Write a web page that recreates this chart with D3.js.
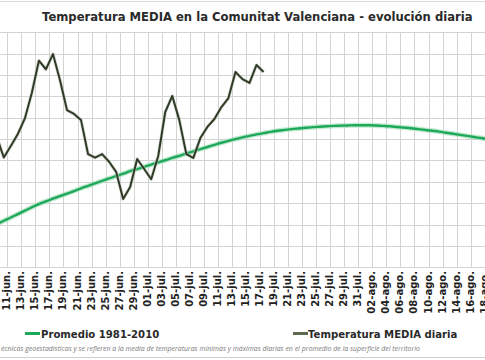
<!DOCTYPE html>
<html><head><meta charset="utf-8">
<script src="https://cdn.jsdelivr.net/npm/d3@7"></script>
<style>
html,body{margin:0;padding:0;background:#fff;overflow:hidden}
svg{display:block}
</style></head>
<body>
<svg id="c" width="485" height="360"></svg>
<script>
// ---- data ----
const titleText = "Temperatura MEDIA en la Comunitat Valenciana - evolución diaria";
const footnoteText = "écnicas geoestadísticas y se refieren a la media de temperaturas mínimas y máximas diarias en el promedio de la superficie del territorio";
const seriesNames = ["Promedio 1981-2010", "Temperatura MEDIA diaria"];
const monthAbbr = ["ene.","feb.","mar.","abr.","may.","jun.","jul.","ago.","sep.","oct.","nov.","dic."];
const axisStart = "2023-06-01", axisEnd = "2023-08-31";
const tickFirst = "2023-06-09", tickLast = "2023-08-18"; const tickEvery = 2;
const yTicks = [19,20,21,22,23,24,25,26,27,28,29,30];

const dailyStart = "2023-06-10";
const dailyValues = [25.10,24.14,24.68,25.24,25.97,27.17,28.67,28.27,28.98,27.77,
  26.36,26.18,25.89,24.30,24.13,24.30,23.94,23.47,22.20,22.76,
  24.07,23.60,23.12,24.21,26.27,27.02,25.89,24.30,24.12,25.05,
  25.57,25.94,26.50,26.92,28.14,27.81,27.63,28.47,28.14];

const normalStart = "2023-06-10";
const normalValues = [21.02,21.18,21.33,21.49,21.65,21.81,21.96,22.09,22.21,22.33,
  22.45,22.57,22.70,22.81,22.93,23.04,23.16,23.27,23.38,23.50,
  23.60,23.70,23.81,23.91,24.01,24.12,24.22,24.32,24.43,24.53,
  24.63,24.73,24.83,24.92,25.00,25.08,25.15,25.22,25.28,25.34,
  25.39,25.43,25.47,25.50,25.53,25.56,25.58,25.60,25.62,25.63,
  25.64,25.65,25.65,25.65,25.64,25.62,25.60,25.57,25.54,25.51,
  25.47,25.43,25.39,25.35,25.30,25.25,25.20,25.15,25.10,25.05,
  24.99,24.93,24.87];

// ---- setup ----
const parse = d3.utcParse("%Y-%m-%d");
const cats = d3.utcDay.range(parse(axisStart), d3.utcDay.offset(parse(axisEnd),1));
const key = d => +d;
const step = 7.02;
const offX = 0.29 - 10*step;
const x = d3.scaleBand().domain(cats.map(key)).range([0, cats.length*step]).padding(0);
const y = d3.scaleLinear().domain([19,30]).range([267.3, 32.3]);
const svg = d3.select("#c");
const fmt = d => String(d.getUTCDate()).padStart(2,"0") + "-" + monthAbbr[d.getUTCMonth()];

const daily = dailyValues.map((v,i)=>({d:d3.utcDay.offset(parse(dailyStart),i), v}));
const normal = normalValues.map((v,i)=>({d:d3.utcDay.offset(parse(normalStart),i), v}));
const cx = d => offX + x(key(d)) + x.bandwidth()/2;

// frame lines
svg.append("line").attr("x1",0).attr("x2",485).attr("y1",1.5).attr("y2",1.5).attr("stroke","#d8d8d8");
svg.append("line").attr("x1",0).attr("x2",485).attr("y1",357.5).attr("y2",357.5).attr("stroke","#cfcfcf");

// grid
const gridDates = cats.filter(d => Math.round((d - parse(tickFirst))/864e5) % tickEvery === 0);
const tickDates = gridDates.filter(d => d >= parse(tickFirst) && d <= parse(tickLast));
const grid = svg.append("g");
grid.selectAll("line.h").data(yTicks).join("line")
  .attr("x1",0).attr("x2",485).attr("y1",d=>Math.round(y(d))+0.5).attr("y2",d=>Math.round(y(d))+0.5)
  .attr("stroke","#d3d3d3").attr("stroke-width",1);
grid.selectAll("line.v").data(gridDates).join("line")
  .attr("x1",d=>Math.round(offX + x(key(d)) + step)+0.5).attr("x2",d=>Math.round(offX + x(key(d)) + step)+0.5)
  .attr("y1",y(30)).attr("y2",y(19)).attr("stroke","#d3d3d3").attr("stroke-width",1);

// x labels
svg.append("g").selectAll("text").data(tickDates).join("text")
  .attr("transform", d => `translate(${offX + x(key(d)) + step - 0.5},271) rotate(-90)`)
  .attr("text-anchor","end").attr("dominant-baseline","central")
  .attr("font-family","DejaVu Sans").attr("font-weight","bold").attr("font-size",10)
  .attr("fill","#222").text(fmt);

// lines
const line = d3.line().x(d=>cx(d.d)).y(d=>y(d.v));
const nline = d3.line().x(d=>cx(d.d)).y(d=>y(d.v)).curve(d3.curveMonotoneX);
svg.append("path").datum(normal).attr("d",nline).attr("fill","none")
  .attr("stroke","#a9dfbd").attr("stroke-width",5).attr("opacity",0.7);
svg.append("path").datum(normal).attr("d",nline).attr("fill","none")
  .attr("stroke","#1ea85a").attr("stroke-width",2.4);
svg.append("path").datum(daily).attr("d",line).attr("fill","none")
  .attr("stroke","#c9cfc4").attr("stroke-width",3.6).attr("opacity",0.6).attr("stroke-linejoin","round");
svg.append("path").datum(daily).attr("d",line).attr("fill","none")
  .attr("stroke","#2f3b27").attr("stroke-width",2).attr("stroke-linejoin","round");

// title
const t = svg.append("text").attr("x",42).attr("y",21)
  .attr("font-family","DejaVu Sans").attr("font-weight","bold").attr("font-size",13)
  .attr("fill","#2a2a2a").text(titleText);
const tl = t.node().getComputedTextLength();
t.attr("font-size", 13*431/tl);

// legend
const leg = [{name:seriesNames[0], color:"#1ea85a", lx:25, tx:41},
             {name:seriesNames[1], color:"#5b6b4c", lx:293, tx:308}];
const lg = svg.append("g").selectAll("g").data(leg).join("g");
lg.append("line").attr("x1",d=>d.lx).attr("x2",d=>d.lx+15).attr("y1",333.5).attr("y2",333.5)
  .attr("stroke",d=>d.color).attr("stroke-width",3);
lg.append("text").attr("x",d=>d.tx).attr("y",337.5)
  .attr("font-family","DejaVu Sans").attr("font-weight","bold").attr("font-size",10.1)
  .attr("fill","#2a2a2a").text(d=>d.name);

// footnote
const fn = svg.append("text").attr("x",1).attr("y",351)
  .attr("font-family","Open Sans").attr("font-style","italic").attr("font-size",6.5)
  .attr("fill","#7a7a7a").text(footnoteText);
const fl = fn.node().getComputedTextLength();
fn.attr("font-size", 6.5*420/fl);
</script>
</body></html>
